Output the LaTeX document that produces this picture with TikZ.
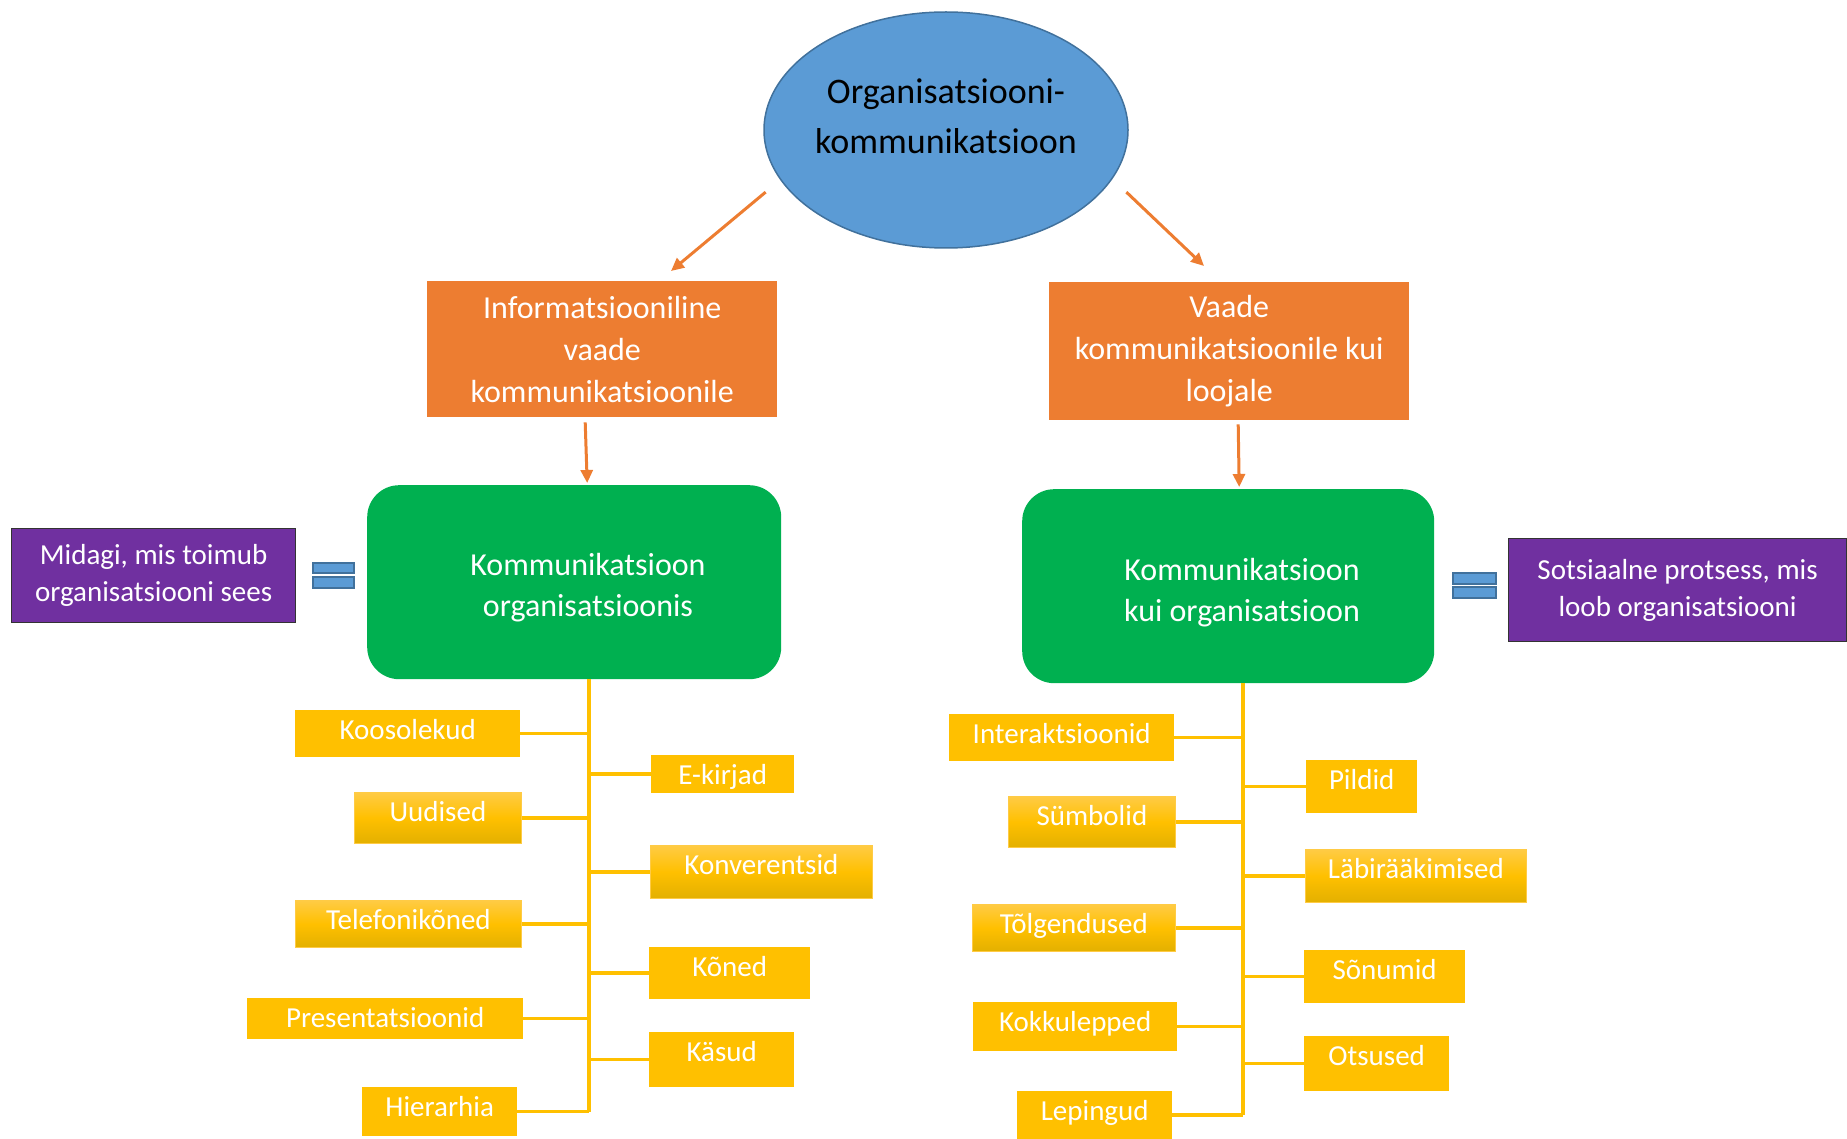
\documentclass[tikz,border=0pt]{standalone}
\usepackage{fontspec}
\setmainfont{Carlito}
\usetikzlibrary{arrows.meta,shapes.geometric}
\definecolor{orgblue}{HTML}{5B9BD5}
\definecolor{orgedge}{HTML}{41719C}
\definecolor{orangebox}{HTML}{ED7D31}
\definecolor{greenbox}{HTML}{00B050}
\definecolor{purplebox}{HTML}{7030A0}
\definecolor{yel}{HTML}{FFC000}
\definecolor{yeltop}{HTML}{FFCB45}
\definecolor{yelbot}{HTML}{E3B000}
\begin{document}
\begin{tikzpicture}
[x=1pt,y=-1pt,
 orgell/.style={ellipse,draw=orgedge,line width=1.5pt,fill=orgblue,inner sep=0pt,outer sep=20pt,minimum width=364pt,minimum height=236pt},
 orgtxt/.style={align=center,font=\fontsize{36}{50}\selectfont},
 orbox/.style={rectangle,fill=orangebox,text=white,align=center,inner sep=0pt,anchor=north west,font=\fontsize{32}{42}\selectfont},
 grbox/.style={rectangle,rounded corners=32pt,fill=greenbox,inner sep=0pt,anchor=north west},
 grtxt/.style={text=white,align=center,font=\fontsize{32}{41}\selectfont},
 pubox/.style={rectangle,fill=purplebox,draw=black!80,line width=1.2pt,text=white,align=center,inner sep=0pt,anchor=north west,font=\fontsize{29}{37}\selectfont},
 ybox/.style={rectangle,fill=yel,text=white,inner sep=0pt,anchor=north west,text height=29pt,font=\fontsize{29}{35}\selectfont},
 ygrad/.style={ybox,top color=yeltop,bottom color=yelbot,middle color=yel,draw=yeltop,line width=0.8pt},
 yline/.style={draw=yel,line width=3.5pt},
 oarrow/.style={draw=orangebox,line width=3pt,-{Triangle[length=13pt,width=12pt]}},
 eqbar/.style={fill=orgblue,draw=orgedge,line width=1.2pt}]
\useasboundingbox (0,0) rectangle (1847,1139);
\clip (0,0) rectangle (1847,1139);

% top
\node[orgell] (org) at (946,130) {};
\node[orgtxt] (orgt) at (946,116) {Organisatsiooni-\\kommunikatsioon};
\coordinate (la) at (671,271);
\coordinate (ra) at (1204,266);
\draw[oarrow] (org.199) -- (la);
\draw[oarrow] (org.-19) -- (ra);

% two views
\node[orbox,minimum width=350pt,minimum height=136pt] (info) at (427,281) {Informatsiooniline\\vaade\\kommunikatsioonile};
\node[orbox,minimum width=360pt,minimum height=138pt] (vaade) at (1049,282) {Vaade\\kommunikatsioonile kui\\loojale};

\node[grbox,minimum width=414pt,minimum height=194pt] (kio) at (367,485) {};
\node[grtxt] (kiot) at (588,588) {Kommunikatsioon\\organisatsioonis};
\node[grbox,minimum width=412pt,minimum height=194pt] (kko) at (1022,489) {};
\node[grtxt] (kkot) at (1242,593) {Kommunikatsioon\\kui organisatsioon};

\draw[oarrow] ([xshift=-17pt,yshift=-5pt]info.south) -- ([xshift=13pt,yshift=2pt]kio.north);
\draw[oarrow] ([xshift=9pt,yshift=-4pt]vaade.south) -- ([xshift=11pt,yshift=2pt]kko.north);

% side notes
\node[pubox,minimum width=284pt,minimum height=94pt] (mid) at (11,528) {Midagi, mis toimub\\organisatsiooni sees};
\node[pubox,minimum width=338pt,minimum height=103pt] (sots) at (1508,538) {Sotsiaalne protsess, mis\\loob organisatsiooni};
\draw[eqbar] (313,563) rectangle (354,573);
\draw[eqbar] (313,577) rectangle (354,588);
\draw[eqbar] (1453,573) rectangle (1496,584);
\draw[eqbar] (1453,587) rectangle (1496,598);

% lists
\coordinate (lt) at (589,679);
\coordinate (rt) at (1243,683);
\foreach \nm/\st/\l/\t/\w/\h/\tr/\txt in {
  koos/ybox/295/710/225/47/lt/Koosolekud,
  ekir/ybox/651/755/143/38/lt/E-kirjad,
  uud/ygrad/354/792/167/51/lt/Uudised,
  konv/ygrad/650/845/222/53/lt/Konverentsid,
  tel/ygrad/295/900/226/47/lt/Telefonikõned,
  kon/ybox/649/947/161/52/lt/Kõned,
  pres/ybox/247/998/276/41/lt/Presentatsioonid,
  kas/ybox/649/1032/145/55/lt/Käsud,
  hier/ybox/362/1087/155/49/lt/Hierarhia,
  inter/ybox/949/714/225/47/rt/Interaktsioonid,
  pild/ybox/1306/760/111/53/rt/Pildid,
  sumb/ygrad/1008/796/167/51/rt/Sümbolid,
  labi/ygrad/1305/849/221/53/rt/Läbirääkimised,
  tolg/ygrad/972/904/203/47/rt/Tõlgendused,
  sonu/ybox/1304/950/161/53/rt/Sõnumid,
  kokk/ybox/973/1002/204/49/rt/Kokkulepped,
  otsu/ybox/1304/1036/145/55/rt/Otsused,
  lep/ybox/1017/1091/155/48/rt/Lepingud}
{
  \pgfmathsetmacro{\yd}{\h-29}
  \node[\st,minimum width=\w,text depth=\yd pt] (\nm) at (\l,\t) {\txt};
  \draw[yline] (\nm) -- (\nm -| \tr);
}
\draw[yline] (lt) -- (lt |- hier);
\draw[yline] (rt) -- (rt |- lep);
\end{tikzpicture}
\end{document}
